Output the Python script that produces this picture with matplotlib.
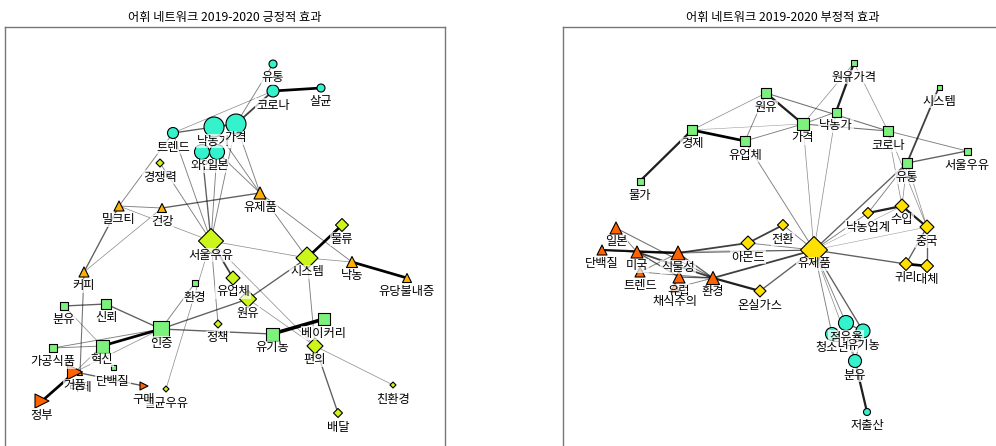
import matplotlib
matplotlib.use('Agg')
import matplotlib.pyplot as plt
import numpy as np

plt.rcParams['font.family'] = ['Noto Sans CJK KR', 'DejaVu Sans']

# 커뮤니티별 색상 / 마커
colors = {
    'C': '#33f2cc',   # 청록
    'G': '#7cf27c',   # 연두 사각형
    'Y': '#ccf51a',   # 황록 마름모
    'A': '#ffb000',   # 주황 삼각형
    'R': '#ff6300',   # 적주황
    'Q': '#ffe000',   # 노랑 마름모
}

# ---------------- 긍정적 효과 ----------------
pos_names = ['유통', '코로나', '살균', '트렌드', '낙농가', '가격', '와인', '일본',
             '환경', '분유', '신뢰', '인증', '유기농', '베이커리', '가공식품', '혁신', '단백질',
             '경쟁력', '서울우유', '물류', '시스템', '유업체', '원유', '정책', '편의', '배달', '친환경', '멸균우유',
             '밀크티', '건강', '유제품', '낙농', '유당불내증', '커피', '라떼',
             '거품', '정부', '구매']
pos_group = ['C'] * 8 + ['G'] * 9 + ['Y'] * 11 + ['A'] * 7 + ['R'] * 3
pos_x = [273, 273, 321, 173, 214, 236, 202, 217,
         195, 64, 106, 161, 272, 324, 53, 102, 113,
         160, 211, 342, 307, 233, 248, 218, 315, 338, 393, 166,
         119, 162, 260, 352, 407, 84, 80,
         75, 42, 144]
pos_y = [64, 91, 88, 133, 127, 124, 152, 152,
         283, 306, 304, 329, 334, 319, 348, 346, 367,
         163, 241, 225, 258, 278, 299, 324, 346, 413, 385, 389,
         206, 208, 193, 262, 278, 272, 373,
         372, 401, 386]
pos_size = [8, 12, 8, 11, 20, 20, 15, 15,
            6, 8, 10, 16, 13, 12, 8, 13, 5,
            8, 25, 13, 22, 14, 17, 8, 16, 9, 6, 6,
            10, 9, 12, 11, 9, 10, 5,
            15, 14, 8]
pos_edges = [
    ('유통', '가격', 1), ('코로나', '가격', 2), ('코로나', '살균', 3), ('트렌드', '코로나', 0.8),
    ('트렌드', '낙농가', 1.5), ('낙농가', '가격', 2), ('트렌드', '밀크티', 1), ('트렌드', '서울우유', 1),
    ('가격', '유제품', 1), ('낙농가', '유제품', 1), ('일본', '유제품', 1), ('가격', '서울우유', 1),
    ('일본', '서울우유', 1), ('와인', '서울우유', 1.5), ('경쟁력', '서울우유', 1),
    ('밀크티', '건강', 1), ('밀크티', '서울우유', 0.8), ('건강', '유제품', 1.5), ('건강', '커피', 0.8),
    ('밀크티', '커피', 1.5), ('유제품', '시스템', 1), ('유제품', '낙농', 1), ('서울우유', '시스템', 0.8),
    ('시스템', '물류', 3), ('시스템', '낙농', 0.8), ('낙농', '유당불내증', 3), ('서울우유', '유업체', 2),
    ('서울우유', '정책', 1), ('서울우유', '멸균우유', 0.8), ('서울우유', '편의', 0.8), ('원유', '시스템', 1.5),
    ('원유', '인증', 1.5), ('시스템', '편의', 1), ('유기농', '베이커리', 4), ('인증', '유기농', 1.5),
    ('인증', '환경', 1), ('인증', '신뢰', 1.5), ('신뢰', '분유', 1.5), ('인증', '혁신', 3),
    ('인증', '가공식품', 1), ('가공식품', '혁신', 1), ('분유', '혁신', 0.8), ('혁신', '거품', 0.8),
    ('인증', '거품', 0.8), ('커피', '라떼', 1.2), ('거품', '정부', 3), ('거품', '구매', 1.5),
    ('편의', '배달', 1.5), ('편의', '친환경', 0.8), ('원유', '편의', 0.8),
]

# ---------------- 부정적 효과 ----------------
neg_names = ['원유가격', '시스템', '원유', '낙농가', '가격', '경제', '코로나', '유업체', '서울우유', '유통', '물가',
             '수입', '낙농업계', '전환', '중국', '아몬드', '유제품', '귀리', '대체', '온실가스',
             '일본', '단백질', '미국', '식물성', '트렌드', '유럽', '채식주의', '환경',
             '점유율', '유기농', '청소년', '분유', '저출산']
neg_group = ['G'] * 11 + ['Q'] * 9 + ['R'] * 8 + ['C'] * 5
neg_x = [854, 939, 766, 836, 803, 692, 888, 745, 967, 907, 640,
         902, 868, 783, 927, 748, 814, 906, 927, 760,
         616, 602, 637, 678, 640, 679, 675, 713,
         846, 863, 832, 855, 867]
neg_y = [63, 87, 93, 112, 124, 130, 131, 141, 151, 163, 181,
         206, 213, 225, 227, 243, 250, 264, 266, 291,
         228, 250, 252, 253, 272, 277, 288, 278,
         323, 331, 334, 361, 412]
neg_size = [6, 5, 10, 9, 12, 10, 10, 10, 7, 10, 7,
            14, 11, 11, 14, 14, 27, 13, 13, 12,
            12, 10, 12, 14, 10, 12, 9, 13,
            15, 14, 13, 13, 7]
neg_edges = [
    ('원유가격', '낙농가', 2.5), ('원유가격', '가격', 0.8), ('원유가격', '코로나', 0.8), ('시스템', '유통', 2),
    ('원유', '경제', 0.8), ('원유', '유업체', 1), ('원유', '가격', 2.5), ('원유', '코로나', 1.2),
    ('경제', '유업체', 3), ('경제', '가격', 0.6), ('경제', '물가', 2.5), ('유업체', '가격', 1),
    ('가격', '낙농가', 1), ('가격', '코로나', 1.2), ('코로나', '서울우유', 1), ('유통', '서울우유', 1.5),
    ('코로나', '수입', 0.8), ('코로나', '중국', 0.8), ('유통', '낙농업계', 1), ('유통', '수입', 0.8),
    ('유통', '중국', 0.8), ('유통', '유제품', 1.5), ('낙농업계', '수입', 2.5), ('수입', '중국', 2.5),
    ('낙농업계', '유제품', 1), ('수입', '유제품', 0.6), ('중국', '유제품', 0.6), ('중국', '귀리', 1.5),
    ('중국', '대체', 1.5), ('귀리', '대체', 3), ('유제품', '귀리', 1.5), ('유업체', '유제품', 1),
    ('가격', '유제품', 0.8), ('낙농가', '유제품', 0.8), ('유제품', '전환', 1), ('전환', '아몬드', 2),
    ('아몬드', '유제품', 1), ('아몬드', '식물성', 2), ('유제품', '온실가스', 1.5), ('온실가스', '환경', 2.5),
    ('환경', '유제품', 2), ('일본', '환경', 1.2), ('일본', '미국', 1), ('단백질', '식물성', 2.5),
    ('미국', '식물성', 2), ('단백질', '미국', 1.5), ('미국', '환경', 2), ('식물성', '환경', 1.5),
    ('유럽', '환경', 1.5), ('트렌드', '환경', 1), ('채식주의', '환경', 1), ('미국', '유럽', 1.5),
    ('트렌드', '식물성', 1), ('식물성', '유제품', 1.2), ('미국', '유제품', 0.8),
    ('유제품', '점유율', 1), ('유제품', '유기농', 1.5), ('유제품', '청소년', 1), ('유제품', '분유', 0.8),
    ('점유율', '유기농', 1.5), ('분유', '저출산', 2.5), ('유기농', '분유', 1), ('점유율', '분유', 1),
]


def draw_network(ax, names, groups, xs, ys, sizes, edges, markers, title, xlim):
    pos = {n: (x, y) for n, x, y in zip(names, xs, ys)}
    for a, b, w in edges:
        (x1, y1), (x2, y2) = pos[a], pos[b]
        ax.plot([x1, x2], [y1, y2], color='black', lw=w * 0.65,
                alpha=min(1.0, 0.25 + 0.25 * w), zorder=1, solid_capstyle='butt')
    for g in dict.fromkeys(groups):
        idx = [i for i, gg in enumerate(groups) if gg == g]
        m = markers[g]
        ms = np.array([sizes[i] for i in idx]) * 0.72
        if m == 'D':
            ms = ms / np.sqrt(2)
        ax.scatter([xs[i] for i in idx], [ys[i] for i in idx], s=ms ** 2, marker=m,
                   c=colors[g], edgecolors='black', linewidths=0.8, zorder=2)
    for n, x, y in zip(names, xs, ys):
        ax.text(x, y + 14, n, ha='center', va='center', fontsize=8.8, zorder=3,
                bbox=dict(facecolor='white', edgecolor='none', alpha=0.7, pad=0.6))
    ax.set_xlim(*xlim)
    ax.set_ylim(447, 27)
    ax.set_xticks([])
    ax.set_yticks([])
    for sp in ax.spines.values():
        sp.set_color('#777777')
        sp.set_linewidth(1.0)
    ax.set_title(title, fontsize=8.8, pad=4)


fig = plt.figure(figsize=(9.96, 4.46), dpi=100)
ax1 = fig.add_axes([5 / 996, -1 / 446, 440 / 996, 420 / 446])
ax2 = fig.add_axes([563 / 996, -1 / 446, 440 / 996, 420 / 446])

draw_network(ax1, pos_names, pos_group, pos_x, pos_y, pos_size, pos_edges,
             {'C': 'o', 'G': 's', 'Y': 'D', 'A': '^', 'R': '>'},
             '어휘 네트워크 2019-2020 긍정적 효과', (5, 445))
draw_network(ax2, neg_names, neg_group, neg_x, neg_y, neg_size, neg_edges,
             {'G': 's', 'Q': 'D', 'R': '^', 'C': 'o'},
             '어휘 네트워크 2019-2020 부정적 효과', (563, 1003))

fig.savefig('out.png', dpi=100)
